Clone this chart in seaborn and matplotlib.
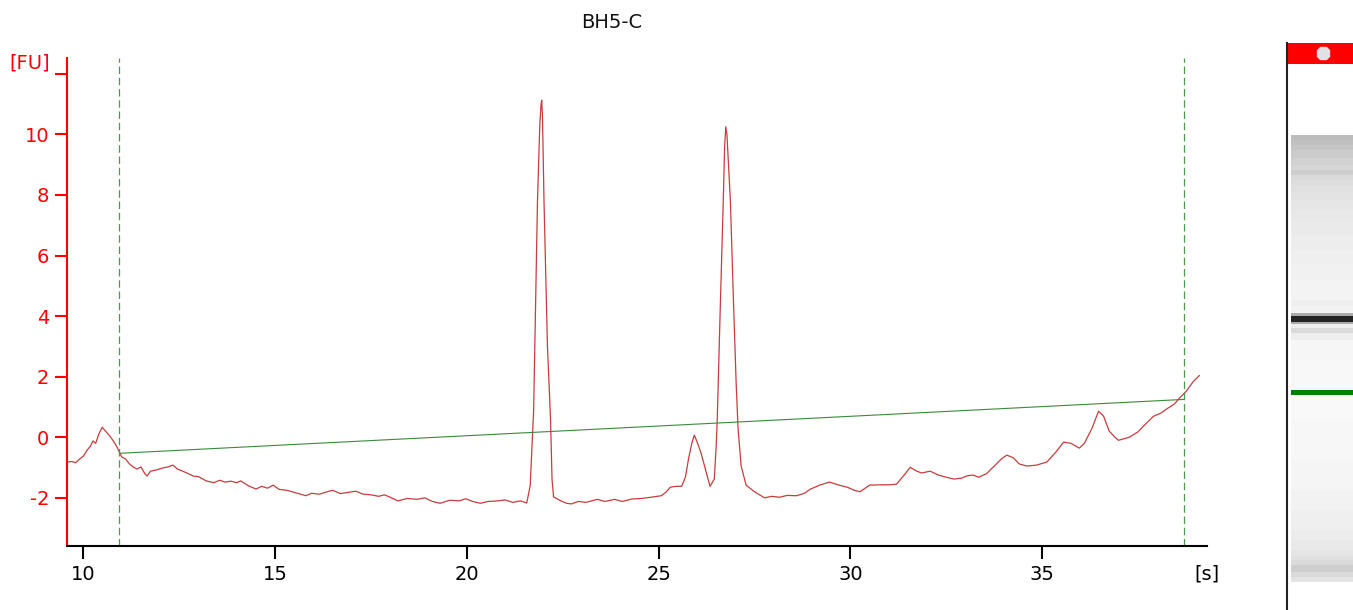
import matplotlib
matplotlib.use("Agg")
import matplotlib.pyplot as plt
import seaborn as sns
import numpy as np
import pandas as pd

# electropherogram trace: migration time [s] vs fluorescence [FU]
trace_t = [
    9.58, 9.70, 9.80, 9.90, 10.00, 10.10, 10.18, 10.25, 10.32, 10.40, 10.49, 10.58,
    10.68, 10.78, 10.88, 10.94, 11.00, 11.10, 11.20, 11.30, 11.40, 11.50, 11.60, 11.66,
    11.75, 11.90, 12.05, 12.20, 12.34, 12.45, 12.55, 12.70, 12.86, 13.00, 13.20, 13.40,
    13.55, 13.70, 13.85, 14.00, 14.10, 14.30, 14.50, 14.65, 14.80, 14.95, 15.10, 15.30,
    15.50, 15.80, 15.95, 16.15, 16.35, 16.50, 16.70, 16.90, 17.10, 17.30, 17.50, 17.70,
    17.85, 18.00, 18.20, 18.45, 18.70, 18.90, 19.10, 19.30, 19.55, 19.80, 19.97, 20.15,
    20.35, 20.55, 20.80, 21.00, 21.20, 21.40, 21.56,
    # peak 1
    21.65, 21.74, 21.84, 21.90, 21.93, 21.95, 21.97, 22.01, 22.10, 22.18, 22.22, 22.26,
    22.45, 22.60, 22.73, 22.90, 23.10, 23.40, 23.60, 23.85, 24.05, 24.30, 24.55, 24.80,
    25.07, 25.20, 25.30, 25.45, 25.60, 25.70, 25.78, 25.87, 25.93, 26.00, 26.10, 26.25,
    26.34,
    # peak 2
    26.45, 26.50, 26.53, 26.60, 26.68, 26.72, 26.75, 26.78, 26.82, 26.87, 26.95, 27.02,
    27.07, 27.15,
    27.28, 27.50, 27.76, 27.95, 28.15, 28.35, 28.60, 28.80, 28.96, 29.20, 29.45, 29.70,
    29.92, 30.10, 30.25, 30.50, 30.80, 31.00, 31.20, 31.40, 31.56, 31.70, 31.85, 32.08,
    32.30, 32.50, 32.70, 32.90, 33.05, 33.20, 33.35, 33.55, 33.75, 33.95, 34.08, 34.25,
    34.40, 34.60, 34.85, 35.12, 35.35, 35.56, 35.75, 35.97, 36.10, 36.30, 36.47, 36.60,
    36.75, 36.90, 36.99, 37.27, 37.50, 37.66, 37.90, 38.10, 38.23, 38.45, 38.57, 38.75,
    38.94, 39.10,
]
trace_fu = [
    -0.82, -0.80, -0.84, -0.72, -0.62, -0.42, -0.30, -0.12, -0.20, 0.10, 0.33, 0.20,
    0.05, -0.12, -0.33, -0.50, -0.65, -0.72, -0.88, -0.98, -1.05, -0.98, -1.20, -1.28,
    -1.12, -1.08, -1.02, -0.98, -0.92, -1.05, -1.10, -1.18, -1.28, -1.30, -1.44, -1.50,
    -1.42, -1.48, -1.45, -1.50, -1.44, -1.60, -1.71, -1.62, -1.68, -1.58, -1.72, -1.75,
    -1.82, -1.93, -1.85, -1.88, -1.80, -1.75, -1.86, -1.82, -1.78, -1.88, -1.90, -1.95,
    -1.90, -1.98, -2.10, -2.02, -2.05, -2.00, -2.12, -2.18, -2.08, -2.10, -2.03, -2.12,
    -2.18, -2.12, -2.10, -2.07, -2.15, -2.10, -2.17,
    -1.60, 0.90, 7.80, 10.30, 10.95, 11.13, 10.60, 7.80, 3.00, 0.60, -1.40, -1.97,
    -2.10, -2.18, -2.20, -2.12, -2.15, -2.05, -2.12, -2.05, -2.12, -2.04, -2.02, -1.98,
    -1.93, -1.80, -1.65, -1.62, -1.62, -1.30, -0.70, -0.17, 0.07, -0.15, -0.50, -1.20,
    -1.62,
    -1.38, -0.30, 0.70, 4.00, 7.60, 9.60, 10.25, 10.00, 9.00, 7.80, 4.50, 1.80,
    0.30, -0.95,
    -1.58, -1.80, -2.00, -1.95, -1.98, -1.92, -1.93, -1.85, -1.71, -1.58, -1.48, -1.58,
    -1.65, -1.75, -1.80, -1.58, -1.57, -1.57, -1.55, -1.25, -0.99, -1.10, -1.18, -1.12,
    -1.25, -1.32, -1.38, -1.35, -1.27, -1.25, -1.32, -1.20, -0.95, -0.70, -0.59, -0.68,
    -0.88, -0.95, -0.92, -0.82, -0.50, -0.16, -0.20, -0.36, -0.20, 0.30, 0.86, 0.70,
    0.20, 0.00, -0.10, 0.00, 0.18, 0.39, 0.69, 0.80, 0.92, 1.10, 1.28, 1.51,
    1.84, 2.04,
]

# integration window and baseline
window_t = [10.94, 38.71]
baseline_fu = [-0.53, 1.25]

x_ticks = [10, 15, 20, 25, 30, 35]
y_ticks = [-2, 0, 2, 4, 6, 8, 10]

# virtual gel lane: band edges (pixel rows) and grey levels
gel_edges = [135, 140, 145, 150, 158, 165, 170, 175, 180, 185, 192, 200, 210, 220, 235,
             250, 265, 280, 300, 306, 313, 316, 322, 324, 328, 333, 340, 360, 389, 395,
             420, 460, 490, 510, 530, 540, 550, 556, 560, 565, 572, 577, 582]
gel_gray = [188, 192, 197, 203, 209, 214, 205, 218, 221, 224, 227, 230, 232, 234, 237,
            239, 241, 243, 238, 243, 170, 35, 170, 238, 218, 238, 246, 248, 248, 249,
            247, 245, 242, 239, 236, 233, 229, 224, 218, 205, 218, 228]
marker_band = [389.5, 395]

df = pd.DataFrame({"time": trace_t, "fu": trace_fu})

sns.set_style("white")
plt.rcParams["font.family"] = ["DejaVu Sans"]

W, H = 1353, 610
fig = plt.figure(figsize=(W / 100, H / 100), dpi=100)
ax = fig.add_axes([67.3 / W, 1 - 545.7 / H, (1206.7 - 67.3) / W, (545.7 - 57.7) / H])

sns.lineplot(data=df, x="time", y="fu", ax=ax, color="#c83c3c", lw=0.9, sort=False)
ax.plot(window_t, baseline_fu, color="#3a8a3a", lw=0.8)
for t in window_t:
    ax.axvline(t, color="#4a9a4a", lw=0.9, ls=(0, (6, 3)))

ax.set_xlim(9.58, 39.29)
ax.set_ylim(-3.58, 12.53)
ax.set_xlabel("")
ax.set_ylabel("")

for s in ["top", "right"]:
    ax.spines[s].set_visible(False)
ax.spines["left"].set_color("red")
ax.spines["left"].set_linewidth(1.5)
ax.spines["bottom"].set_color("black")
ax.spines["bottom"].set_linewidth(1.5)

ax.set_xticks(x_ticks)
ax.set_xticklabels([str(v) for v in x_ticks])
ax.set_yticks(y_ticks + [12])
ax.set_yticklabels([str(v) for v in y_ticks] + [""])
ax.tick_params(axis="x", direction="out", length=9, width=1.5, color="black",
               labelsize=14, labelcolor="black", pad=5, bottom=True)
ax.tick_params(axis="y", direction="out", length=9, width=1.5, color="red",
               labelsize=14, labelcolor="red", pad=4, left=True)
ax.annotate("[FU]", xy=(0, 12), xycoords=("axes fraction", "data"),
            xytext=(-12.5, 8), textcoords="offset points",
            ha="right", va="center", color="red", fontsize=14)
ax.annotate("[s]", xy=(1, 0), xycoords="axes fraction",
            xytext=(0.5, -13.5), textcoords="offset points",
            ha="center", va="top", color="black", fontsize=14)

fig.text(612 / W, 1 - 22 / H, "BH5-C", ha="center", va="center", fontsize=14, color="#111111")

# gel lane
gx = fig.add_axes([1287 / W, 0, (W - 1287) / W, 1 - 43 / H])
gx.set_xlim(1287, 1353)
gx.set_ylim(610, 43)
gx.pcolormesh([1291, 1353], gel_edges, np.array(gel_gray)[:, None],
              cmap="gray", vmin=0, vmax=255, shading="flat")
gx.fill_between([1291, 1353], marker_band[0], marker_band[1], color="#008000", lw=0)
gx.axhspan(43, 64, color="#ff0000", lw=0)
gx.plot([1322.7], [53], marker="8", ms=10, color="#e2e2e2", mec="#e2e2e2")
for s in ["top", "right", "bottom"]:
    gx.spines[s].set_visible(False)
gx.spines["left"].set_color("#222222")
gx.spines["left"].set_linewidth(1.5)
gx.set_xticks([])
gx.set_yticks([])

fig.savefig("out.png", dpi=100)
